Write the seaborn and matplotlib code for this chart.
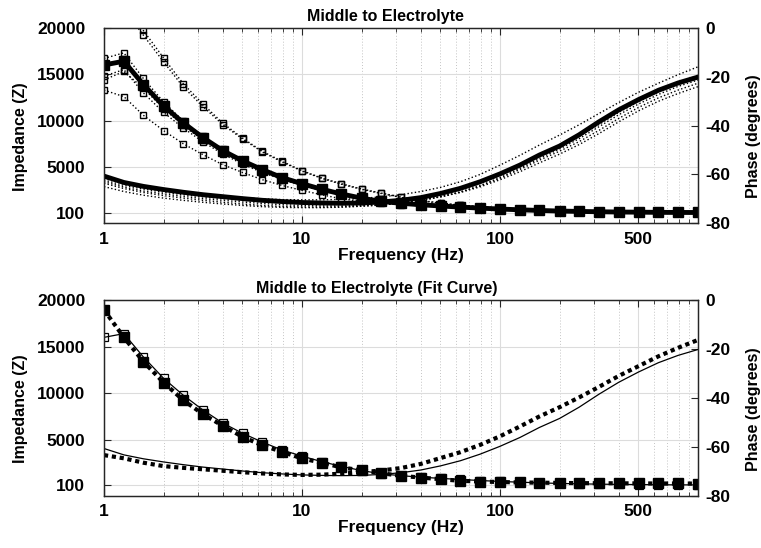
import numpy as np
import pandas as pd
import matplotlib
matplotlib.use("Agg")
import matplotlib.pyplot as plt
import seaborn as sns
from matplotlib.ticker import FixedLocator, FixedFormatter, LogLocator, NullFormatter

# ---------------- data ----------------
freq = [1, 1.26, 1.58, 2.0, 2.51, 3.16, 3.98, 5.01, 6.31, 7.94,
        10, 12.6, 15.8, 20.0, 25.1, 31.6, 39.8, 50.1, 63.1, 79.4,
        100, 126, 158, 200, 251, 316, 398, 501, 631, 794, 1000]

# individual impedance measurements (top panel, dotted)
z_s1a = [26000, 23000, 19700, 16750, 14000, 11800, 9750, 8150, 6720, 5650, 4650, 3860, 3250, 2680, 2250, 1820,
         1450, 1180, 960, 800, 660, 550, 460, 390, 330, 290, 250, 220, 200, 190, 180]
z_s1b = [25000, 22000, 19200, 16330, 13650, 11530, 9600, 8050, 6650, 5580, 4600, 3820, 3200, 2640, 2200, 1780,
         1420, 1150, 940, 780, 640, 530, 450, 380, 320, 280, 240, 215, 195, 185, 175]
z_s2 = [16700, 17300, 14550, 12030, 10000, 8350, 6950, 5800, 4800, 3950, 3300, 2700, 2200, 1750, 1400, 1180,
        1000, 850, 740, 630, 530, 450, 380, 320, 280, 250, 220, 200, 180, 170, 160]
z_s3 = [14800, 15500, 13000, 10900, 9240, 7750, 6440, 5350, 4450, 3700, 3050, 2500, 2050, 1650, 1330, 1120,
        960, 820, 710, 610, 520, 440, 370, 310, 270, 240, 215, 195, 175, 165, 155]
z_s4 = [13300, 12600, 10600, 8950, 7550, 6370, 5290, 4460, 3680, 3060, 2530, 2060, 1630, 1350, 1150, 1000,
        880, 760, 660, 570, 490, 420, 350, 300, 260, 230, 205, 185, 170, 160, 150]
z_s5 = [14400, 15300, 13500, 11300, 9500, 7950, 6650, 5550, 4650, 3850, 3200, 2620, 2120, 1700, 1350, 1140,
        970, 830, 720, 620, 525, 445, 375, 315, 275, 245, 218, 198, 178, 168, 158]

# mean impedance (measured)
z_mean = [16000, 16400, 13900, 11600, 9800, 8200, 6800, 5700, 4750, 3900, 3250, 2650, 2150, 1700, 1350, 1150,
          990, 860, 740, 630, 530, 450, 380, 315, 275, 240, 210, 195, 175, 165, 160]

# individual phase measurements (top panel, dotted)
p_s1 = [-61.5, -63.8, -65.2, -66.4, -67.3, -68.2, -68.9, -69.5, -70.0, -70.3, -70.4, -70.4, -70.2, -69.8, -69.2, -68.3,
        -67.0, -65.3, -63.0, -60.0, -56.2, -52.2, -48.0, -43.9, -39.7, -35.1, -30.6, -26.4, -22.7, -19.2, -16.0]
p_s2 = [-62.3, -64.5, -66.0, -67.3, -68.3, -69.2, -69.9, -70.6, -71.2, -71.6, -71.9, -72.0, -72.0, -71.8, -71.4, -70.7,
        -69.7, -68.3, -66.3, -63.7, -60.4, -56.6, -52.6, -48.7, -44.5, -39.6, -34.6, -30.2, -26.2, -22.6, -19.4]
p_s3 = [-63.0, -65.2, -66.8, -68.0, -69.0, -69.9, -70.6, -71.3, -71.9, -72.4, -72.7, -72.9, -72.9, -72.7, -72.3, -71.6,
        -70.6, -69.1, -67.2, -64.6, -61.3, -57.5, -53.5, -49.6, -45.4, -40.5, -35.6, -31.2, -27.3, -24.0, -21.4]
p_s4 = [-63.6, -65.8, -67.4, -68.7, -69.7, -70.6, -71.4, -72.1, -72.7, -73.1, -73.3, -73.4, -73.3, -73.0, -72.5, -71.7,
        -70.6, -69.1, -67.2, -64.7, -61.6, -58.0, -54.2, -50.5, -46.6, -42.0, -37.1, -32.6, -28.7, -25.5, -22.7]
p_s5 = [-65.0, -67.0, -68.5, -69.7, -70.6, -71.4, -72.1, -72.7, -73.2, -73.5, -73.6, -73.6, -73.4, -73.0, -72.5, -71.7,
        -70.6, -69.2, -67.4, -65.1, -62.2, -58.9, -55.3, -51.7, -47.8, -43.3, -38.5, -34.0, -30.1, -26.9, -24.1]

# mean phase (measured)
p_mean = [-60.7, -63.3, -64.9, -66.2, -67.3, -68.3, -69.1, -69.9, -70.6, -71.1, -71.5, -71.7, -71.8, -71.7, -71.3, -70.6,
          -69.5, -67.8, -65.7, -63.0, -59.8, -56.2, -52.1, -48.4, -43.8, -38.5, -33.6, -29.4, -25.6, -22.6, -20.2]

# fit curve
z_fit = [18950, 16000, 13400, 11150, 9260, 7760, 6500, 5320, 4400, 3710, 3000, 2540, 2040, 1720, 1420, 1130,
         950, 770, 600, 520, 470, 420, 400, 370, 350, 340, 330, 320, 310, 310, 300]
p_fit = [-63.4, -64.7, -66.5, -67.9, -68.6, -69.2, -69.8, -70.4, -70.9, -71.3, -71.5, -71.4, -71.0, -70.4, -69.7, -68.7,
         -67.0, -64.6, -62.2, -59.2, -55.7, -51.7, -47.6, -43.8, -39.8, -35.5, -31.0, -27.0, -23.0, -19.5, -16.3]

x_ticks = [1, 10, 100, 500]
x_tick_labels = ["1", "10", "100", "500"]
z_ticks = [100, 5000, 10000, 15000, 20000]
z_tick_labels = ["100", "5000", "10000", "15000", "20000"]
p_ticks = [-80, -60, -40, -20, 0]
p_tick_labels = ["-80", "-60", "-40", "-20", "0"]

titles = ["Middle to Electrolyte", "Middle to Electrolyte (Fit Curve)"]
x_label = "Frequency (Hz)"
z_label = "Impedance (Z)"
p_label = "Phase (degrees)"

# ---------------- style ----------------
sns.set_style("white")
plt.rcParams['font.family'] = ['Liberation Sans', 'DejaVu Sans']
plt.rcParams['font.weight'] = 'bold'
plt.rcParams['axes.labelweight'] = 'bold'
plt.rcParams['text.color'] = 'black'
plt.rcParams['axes.labelcolor'] = 'black'
plt.rcParams['xtick.color'] = 'black'
plt.rcParams['ytick.color'] = 'black'

fig = plt.figure(figsize=(7.61, 5.48), dpi=100)
L, Wd = 104 / 761, 594 / 761
H = 195.6 / 548
ax_top = fig.add_axes([L, 1 - 223.3 / 548, Wd, H])
ax_bot = fig.add_axes([L, 1 - 495.7 / 548, Wd, H])
ax_top2 = ax_top.twinx()
ax_bot2 = ax_bot.twinx()

SPINE = '#262626'
TS = 12.5


def style(ax, ax2, title, title_x):
    ax.set_xscale('log')
    ax.set_xlim(1, 1000)
    ax.set_ylim(-1000, 20000)
    ax2.set_ylim(-80, 0)
    ax.xaxis.set_major_locator(FixedLocator(x_ticks))
    ax.xaxis.set_major_formatter(FixedFormatter(x_tick_labels))
    ax.xaxis.set_minor_locator(LogLocator(base=10, subs=np.arange(2, 10), numticks=30))
    ax.xaxis.set_minor_formatter(NullFormatter())
    ax.yaxis.set_major_locator(FixedLocator(z_ticks))
    ax.yaxis.set_major_formatter(FixedFormatter(z_tick_labels))
    ax2.yaxis.set_major_locator(FixedLocator(p_ticks))
    ax2.yaxis.set_major_formatter(FixedFormatter(p_tick_labels))
    ax.set_axisbelow(True)
    ax.grid(True, which='major', color='#dcdcdc', lw=0.8, ls='-')
    ax.grid(True, which='minor', axis='x', color='#c4c4c4', lw=0.7, ls=(0, (1, 2)))
    ax.tick_params(axis='x', which='both', direction='in', top=True, bottom=True,
                   labelsize=TS, pad=6, colors=SPINE, labelcolor='black')
    ax.tick_params(axis='x', which='major', length=5, width=0.8)
    ax.tick_params(axis='x', which='minor', length=3, width=0.6)
    ax.tick_params(axis='y', which='major', direction='in', left=True, right=False, length=5,
                   width=0.8, labelsize=TS, pad=13.5, colors=SPINE, labelcolor='black')
    ax2.tick_params(axis='y', which='major', direction='in', right=True, left=False, length=5,
                    width=0.8, labelsize=TS, pad=5, colors=SPINE, labelcolor='black')
    for a in (ax, ax2):
        for s in a.spines.values():
            s.set_color(SPINE)
            s.set_linewidth(0.9)
            s.set_visible(True)
    for lab in ax.get_xticklabels() + ax.get_yticklabels() + ax2.get_yticklabels():
        lab.set_fontweight('bold')
    ax.set_xlabel(x_label, fontsize=12.5, fontweight='bold', color='black')
    ax.xaxis.set_label_coords(0.5, -0.125)
    ax.set_ylabel(z_label, fontsize=11.5, fontweight='bold', color='black')
    ax.yaxis.set_label_coords(-0.128, 0.443)
    ax2.set_ylabel(p_label, fontsize=11.5, fontweight='bold', color='black')
    ax2.yaxis.set_label_coords(1.081, 0.444)
    ax.text(title_x, 1.036, title, transform=ax.transAxes, ha='center', va='baseline',
            fontsize=11.5, fontweight='bold', color='black')


# ---------------- top panel ----------------
for zs in (z_s1a, z_s1b, z_s2, z_s3, z_s4, z_s5):
    sns.lineplot(x=freq, y=zs, ax=ax_top, color='black', lw=1.0, linestyle=':',
                 marker='s', markersize=5, markerfacecolor='none',
                 markeredgecolor='black', markeredgewidth=1.0)
sns.lineplot(x=freq, y=z_mean, ax=ax_top, color='black', lw=3.5,
             marker='s', markersize=6.5, markerfacecolor='black',
             markeredgecolor='black', markeredgewidth=1.0)

for ps in (p_s1, p_s2, p_s3, p_s4, p_s5):
    sns.lineplot(x=freq, y=ps, ax=ax_top2, color='black', lw=1.0, linestyle=':')
sns.lineplot(x=freq, y=p_mean, ax=ax_top2, color='black', lw=3.5)

style(ax_top, ax_top2, titles[0], 0.4735)

# ---------------- bottom panel ----------------
sns.lineplot(x=freq, y=z_mean, ax=ax_bot, color='black', lw=0.9,
             marker='s', markersize=5.5, markerfacecolor='none',
             markeredgecolor='black', markeredgewidth=0.9)
sns.lineplot(x=freq, y=z_fit, ax=ax_bot, color='black', lw=3, linestyle=(0, (1, 0.9)),
             marker='s', markersize=6.5, markerfacecolor='black',
             markeredgecolor='black', markeredgewidth=1.0)
sns.lineplot(x=freq, y=p_mean, ax=ax_bot2, color='black', lw=0.9)
sns.lineplot(x=freq, y=p_fit, ax=ax_bot2, color='black', lw=3, linestyle=(0, (1, 0.9)))

style(ax_bot, ax_bot2, titles[1], 0.459)

for a in (ax_top, ax_top2, ax_bot, ax_bot2):
    leg = a.get_legend()
    if leg is not None:
        leg.remove()

fig.savefig("out.png", dpi=100)
